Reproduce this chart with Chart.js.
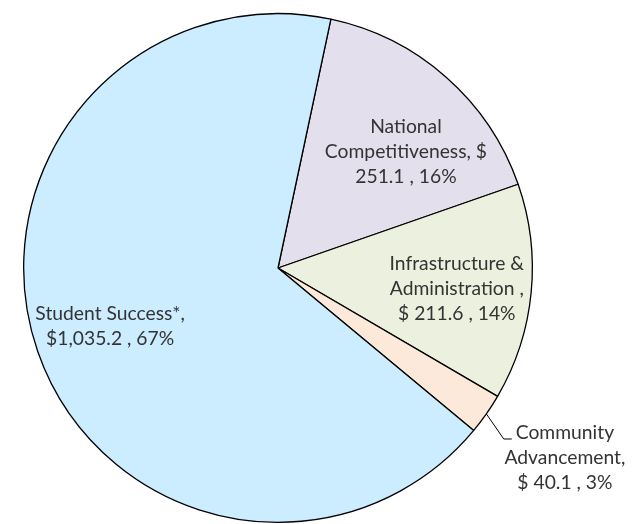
<!DOCTYPE html>
<html>
<head>
<meta charset="utf-8">
<script src="https://cdn.jsdelivr.net/npm/chart.js@4.4.0/dist/chart.umd.min.js"></script>
<style>
  html, body { margin: 0; padding: 0; background: #fff; }
  #wrap { width: 644px; height: 524px; }
</style>
</head>
<body>
<div id="wrap"><canvas id="mycanvas"></canvas></div>
<script>
var categories = ["National Competitiveness", "Infrastructure & Administration", "Community Advancement", "Student Success*"];
var amounts = [251.1, 211.6, 40.1, 1035.2];
var sliceColors = ["#E4DFEC", "#EBF1DE", "#FDE9D9", "#CCECFF"];
var labelLines = [
	["National", "Competitiveness, $", "251.1 , 16%"],
	["Infrastructure &", "Administration ,", "$ 211.6 , 14%"],
	["Community", "Advancement,", "$ 40.1 , 3%"],
	["Student Success*,", "$1,035.2 , 67%"]
];
// label centre, in units of the pie radius, from the pie centre
var labelPos = [[0.503, -0.456], [0.703, 0.083], [1.128, 0.747], [-0.66, 0.228]];

var pieLabels = {
	id: "pieLabels",
	afterDraw: function(chart) {
		var ctx = chart.ctx;
		var arcs = chart.getDatasetMeta(0).data;
		ctx.save();
		// size the font so the widest student line is ~150px like the original
		ctx.font = "20px Lato";
		var fs = 20 * 150 / ctx.measureText(labelLines[3][0]).width;
		ctx.font = fs.toFixed(1) + "px Lato";
		ctx.fillStyle = "#333333";
		ctx.textAlign = "center";
		ctx.textBaseline = "middle";
		var lh = 25;
		for (var i = 0; i < arcs.length; i++) {
			var a = arcs[i];
			var r = a.outerRadius;
			var cx = a.x + labelPos[i][0] * r;
			var cy = a.y + labelPos[i][1] * r;
			var lines = labelLines[i];
			var y0 = cy - (lines.length - 1) * lh / 2;
			for (var j = 0; j < lines.length; j++) {
				ctx.fillText(lines[j], cx, y0 + j * lh);
			}
			if (i == 2) {
				// leader line for the small slice
				var mid = (a.startAngle + a.endAngle) / 2;
				var ex = a.x + Math.cos(mid) * r;
				var ey = a.y + Math.sin(mid) * r;
				var ty = y0 + 6;
				var tx = cx - ctx.measureText(lines[0]).width / 2 - 4;
				ctx.beginPath();
				ctx.strokeStyle = "#000";
				ctx.lineWidth = 1;
				ctx.moveTo(ex, ey);
				ctx.lineTo(tx - 8, ty);
				ctx.lineTo(tx, ty);
				ctx.stroke();
			}
		}
		ctx.restore();
	}
};

var ctx = document.getElementById("mycanvas");
var chart = new Chart(ctx, {
	type: "pie",
	data: {
		labels: categories,
		datasets: [{
			data: amounts,
			backgroundColor: sliceColors,
			borderColor: "#000",
			borderWidth: 1.3
		}]
	},
	options: {
		responsive: true,
		maintainAspectRatio: false,
		animation: false,
		rotation: 12,
		layout: { padding: { left: 23, right: 111, top: 13, bottom: 1 } },
		plugins: {
			legend: { display: false },
			tooltip: { enabled: false }
		}
	},
	plugins: [pieLabels]
});
</script>
</body>
</html>
